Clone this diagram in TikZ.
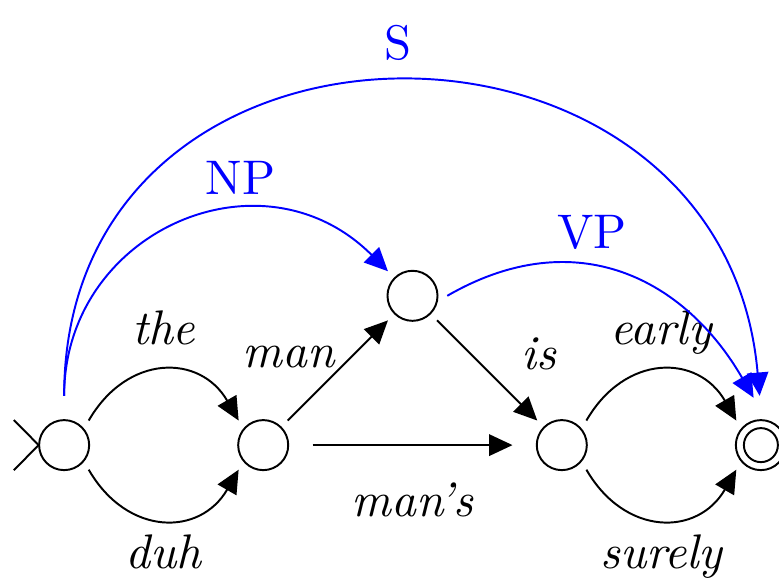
\documentclass[tikz,border=0pt]{standalone}
\usepackage{xcolor}
\usepackage{tikz}
\usetikzlibrary{arrows.meta}

\begin{document}
\begin{tikzpicture}[>={Triangle[length=4.8pt,width=4.4pt]}, scale=0.8,
        state/.style={circle,draw,minimum size=10.3pt,inner sep=0pt,outer sep=2pt},
        word/.style={font=\itshape,text height=6.5pt,text depth=1.9pt}]
        \useasboundingbox (-0.58,-1.194) rectangle (6.464,4.025);
        % 状态
        \node [state] (q0) at (0,0) {};
        \node [state] (q1) at (1.8,0) {};
        \node [state] (q2) at (3.15,1.35) {};
        \node [state] (q3) at (4.5,0) {};
        \node [state] (q4) at (6.3,0) {};
        \node [circle,draw,minimum size=7pt,inner sep=0pt] (q4in) at (q4) {};
        % 初始标记
        \coordinate (ia) at (-0.455,0.226);
        \coordinate (ib) at (-0.455,-0.226);
        \coordinate (iv) at (-0.23,0);
        \draw (ia) -- (iv) -- (ib);
        % 词的转移
        \draw [->] (q0.north east) to[out=60,in=120,looseness=1.32] node[midway,above,word] {the} (q1.north west);
        \draw [->] (q0.south east) to[out=-60,in=-120,looseness=1.32] node[midway,below,word] {duh} (q1.south west);
        \draw [->] (q1) -- (q2) node[pos=0.64,left,word] {man};
        \draw [->,shorten <=3pt,shorten >=3pt] (q1) -- (q3) node[midway,below=4.6pt,word] {man's};
        \draw [->] (q2) -- (q3) node[midway,right,xshift=3.5pt,yshift=2.5pt,word] {is};
        \draw [->] (q3.north east) to[out=60,in=120,looseness=1.32] node[midway,above,word] {early} (q4.north west);
        \draw [->] (q3.south east) to[out=-60,in=-120,looseness=1.32] node[midway,below,word] {surely} (q4.south west);
        % 短语弧
        \draw [blue,->,shorten <=3pt] (q0.north) to[out=90,in=135,looseness=1.3] node[pos=0.65,above] {NP} (q2.north west);
        \draw [blue,->,shorten >=3pt] (q2.east) to[out=30,in=120,looseness=1.15] node[pos=0.4,above] {VP} (q4.north);
        \draw [blue,->,shorten <=3pt,shorten >=3pt] (q0.north) to[out=90,in=95,looseness=1.6] node[midway,above=1.5pt] {S} (q4.north);
\end{tikzpicture}
\end{document}
